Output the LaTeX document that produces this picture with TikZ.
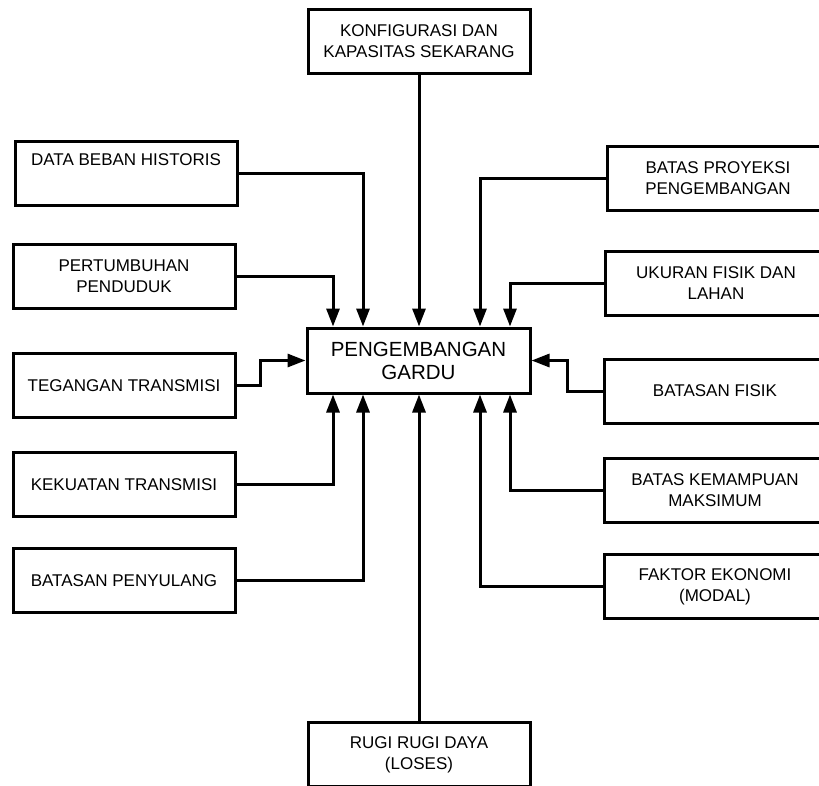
\documentclass[tikz,border=0pt]{standalone}
\usepackage{fontspec}
\setmainfont{Liberation Sans}
\usetikzlibrary{arrows.meta}

\begin{document}
\begin{tikzpicture}[x=1pt,y=-1pt,
    kotak/.style={draw,line width=3pt,minimum width=222pt,minimum height=64pt,
        inner sep=0pt,align=center,font=\fontsize{17}{21}\selectfont},
    panah/.style={line width=3pt,-{Triangle[length=18pt,width=13pt]}}]
        % Page and clipping
        \fill[white] (0,0) rectangle (819,785);
        \clip (0,0) rectangle (819,785);
        % Central node
        \node[kotak,minimum width=223pt,minimum height=65pt,font=\fontsize{20.5}{23}\selectfont] (gardu) at (418.5,360.5) {PENGEMBANGAN\\GARDU};
        % Top and bottom
        \node[kotak] (konfig) at (419,41.5) {KONFIGURASI DAN\\KAPASITAS SEKARANG};
        \node[kotak] (rugi) at (419,754.5) {RUGI RUGI DAYA\\(LOSES)};
        % Left column
        \node[kotak] (data) at (126,173.5) {DATA BEBAN HISTORIS\\\strut};
        \node[kotak] (pend) at (124,276.5) {PERTUMBUHAN\\PENDUDUK};
        \node[kotak] (tegangan) at (124,385.5) {TEGANGAN TRANSMISI};
        \node[kotak] (kekuatan) at (124,484.5) {KEKUATAN TRANSMISI};
        \node[kotak] (penyulang) at (124,580.5) {BATASAN PENYULANG};
        % Right column
        \node[kotak] (proyeksi) at (718,178.5) {BATAS PROYEKSI\\PENGEMBANGAN};
        \node[kotak] (lahan) at (716,283) {UKURAN FISIK DAN\\LAHAN};
        \node[kotak] (fisik) at (715,391) {BATASAN FISIK};
        \node[kotak] (maks) at (715,490) {BATAS KEMAMPUAN\\MAKSIMUM};
        \node[kotak] (modal) at (715,586.5) {FAKTOR EKONOMI\\(MODAL)};
        % Connectors into the top side
        \draw[panah] (konfig.south) -- (konfig.south |- gardu.north);
        \draw[panah] (data.east) -| ([xshift=-55.5pt]gardu.north);
        \draw[panah] (pend.east) -| ([xshift=-85.5pt]gardu.north);
        \draw[panah] (proyeksi.west) -| ([xshift=61.5pt]gardu.north);
        \draw[panah] (lahan.west) -| ([xshift=91.5pt]gardu.north);
        % Connectors into the sides
        \draw[panah] (tegangan.east) -- ++(24,0) |- (gardu.west);
        \draw[panah] (fisik.west) -- ++(-35,0) |- (gardu.east);
        % Connectors into the bottom side
        \draw[panah] (kekuatan.east) -| ([xshift=-85.5pt]gardu.south);
        \draw[panah] (penyulang.east) -| ([xshift=-55.5pt]gardu.south);
        \draw[panah] (maks.west) -| ([xshift=91.5pt]gardu.south);
        \draw[panah] (modal.west) -| ([xshift=61.5pt]gardu.south);
        \draw[panah] (rugi.north) -- (rugi.north |- gardu.south);
    \end{tikzpicture}
\end{document}
